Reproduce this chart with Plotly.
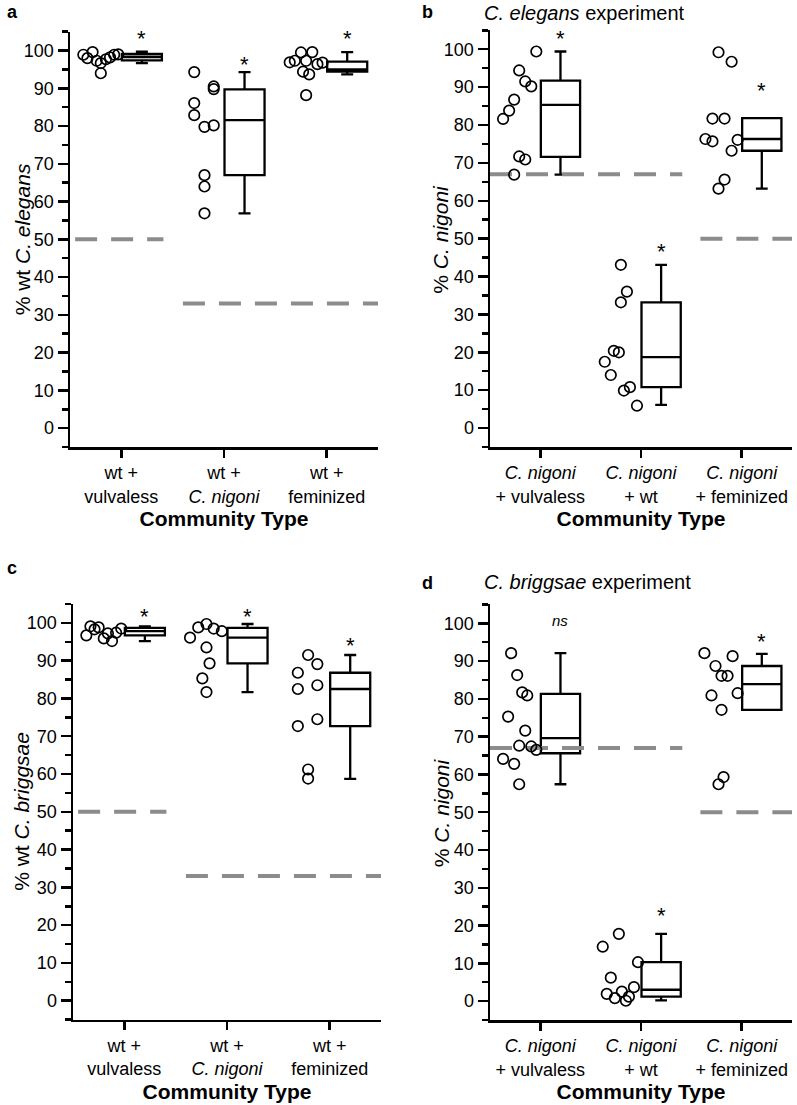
import plotly.graph_objects as go

# ---------------- DATA ----------------
# Panel a: % wt C. elegans
a_cats = ["wt +<br>vulvaless", "wt +<br><i>C. nigoni</i>", "wt +<br>feminized"]
a_vals = [
    [98.9, 98.0, 99.6, 97.3, 96.7, 94.0, 97.7, 98.2, 98.9, 99.0],
    [94.3, 90.5, 89.8, 86.1, 82.9, 79.8, 80.2, 67.0, 64.0, 56.9],
    [96.9, 97.3, 99.5, 97.3, 99.6, 94.4, 93.7, 96.4, 96.8, 88.2],
]
a_jit = [
    [-0.37, -0.33, -0.28, -0.24, -0.20, -0.20, -0.15, -0.11, -0.07, -0.03],
    [-0.29, -0.10, -0.10, -0.29, -0.29, -0.19, -0.10, -0.19, -0.19, -0.19],
    [-0.36, -0.31, -0.25, -0.20, -0.14, -0.23, -0.17, -0.09, -0.04, -0.20],
]
a_q1 = [97.4, 67.0, 94.4]
a_med = [98.3, 81.6, 95.0]
a_q3 = [99.1, 89.7, 97.1]
a_lo = [96.7, 56.9, 93.7]
a_hi = [99.7, 94.3, 99.6]
a_sig = ["*", "*", "*"]
a_sig_y = [104.6, 97.6, 104.6]
a_ref_y = [50, 33]
a_ref_x0 = [-0.45, 0.6]
a_ref_x1 = [0.41, 2.5]

# Panel b: % C. nigoni (C. elegans experiment)
b_cats = ["<i>C. nigoni</i><br>+ vulvaless", "<i>C. nigoni</i><br>+ wt", "<i>C. nigoni</i><br>+ feminized"]
b_vals = [
    [81.6, 83.8, 86.7, 94.4, 91.5, 90.2, 99.4, 71.7, 70.9, 66.9],
    [43.1, 36.0, 33.2, 20.4, 20.0, 17.5, 14.0, 9.9, 10.8, 5.9],
    [99.2, 96.7, 81.7, 81.7, 76.3, 75.7, 76.1, 73.2, 65.6, 63.2],
]
b_jit = [
    [-0.37, -0.31, -0.26, -0.21, -0.15, -0.09, -0.04, -0.21, -0.15, -0.26],
    [-0.20, -0.14, -0.20, -0.27, -0.22, -0.36, -0.30, -0.17, -0.11, -0.04],
    [-0.23, -0.10, -0.29, -0.17, -0.36, -0.29, -0.04, -0.10, -0.17, -0.23],
]
b_q1 = [71.6, 10.8, 73.2]
b_med = [85.3, 18.7, 76.3]
b_q3 = [91.7, 33.2, 81.8]
b_lo = [66.9, 6.1, 63.2]
b_hi = [99.4, 43.1, 81.8]
b_sig = ["*", "*", "*"]
b_sig_y = [104.2, 47.8, 90.3]
b_ref_y = [67, 50]
b_ref_x0 = [-0.5, 1.59]
b_ref_x1 = [1.41, 2.5]

# Panel c: % wt C. briggsae
c_cats = a_cats
c_vals = [
    [96.7, 99.1, 98.3, 98.8, 95.9, 97.2, 95.2, 97.4, 98.5],
    [96.1, 98.8, 99.7, 98.5, 97.8, 93.5, 89.3, 85.3, 81.7],
    [91.5, 89.1, 86.8, 82.5, 83.5, 74.5, 72.7, 61.2, 58.8],
]
c_jit = [
    [-0.37, -0.33, -0.29, -0.25, -0.20, -0.16, -0.12, -0.08, -0.03],
    [-0.36, -0.28, -0.20, -0.13, -0.05, -0.20, -0.17, -0.24, -0.20],
    [-0.21, -0.12, -0.31, -0.31, -0.12, -0.12, -0.31, -0.21, -0.21],
]
c_q1 = [96.7, 89.3, 72.7]
c_med = [97.8, 96.1, 82.5]
c_q3 = [98.7, 98.7, 86.8]
c_lo = [95.2, 81.7, 58.7]
c_hi = [99.1, 99.7, 91.5]
c_sig = ["*", "*", "*"]
c_sig_y = [102.9, 102.9, 95.4]
c_ref_y = [50, 33]
c_ref_x0 = [-0.45, 0.6]
c_ref_x1 = [0.41, 2.5]

# Panel d: % C. nigoni (C. briggsae experiment)
d_cats = b_cats
d_vals = [
    [92.1, 86.3, 81.7, 80.9, 75.3, 71.6, 67.6, 67.4, 66.5, 64.1, 62.8, 57.4],
    [17.8, 14.4, 10.3, 6.2, 3.7, 1.9, 2.5, 0.8, 1.2, 0.1],
    [92.1, 88.7, 86.1, 86.1, 91.3, 80.9, 81.5, 77.1, 59.3, 57.4],
]
d_jit = [
    [-0.29, -0.23, -0.18, -0.13, -0.32, -0.15, -0.21, -0.09, -0.04, -0.37, -0.26, -0.21],
    [-0.22, -0.38, -0.03, -0.30, -0.07, -0.34, -0.19, -0.26, -0.12, -0.15],
    [-0.37, -0.26, -0.20, -0.14, -0.09, -0.30, -0.04, -0.20, -0.18, -0.23],
]
d_q1 = [65.6, 1.2, 77.1]
d_med = [69.6, 3.0, 83.9]
d_q3 = [81.3, 10.3, 88.7]
d_lo = [57.4, 0.2, 77.1]
d_hi = [92.1, 17.8, 91.9]
d_sig = ["<i>ns</i>", "*", "*"]
d_sig_y = [100.4, 23.9, 96.5]
d_ref_y = [67, 50]
d_ref_x0 = [-0.5, 1.59]
d_ref_x1 = [1.41, 2.5]

y_ticks = list(range(0, 101, 10))

# ---------------- STYLE ----------------
W, H = 797, 1105
FONT = "Liberation Sans, Arial, sans-serif"
BOX_OFF = 0.2
BOX_W = 0.39
GRAY = "#8c8c8c"


def px_x(v):
    return v / W


def px_y(v):
    return 1 - v / H


panels = [
    dict(cats=a_cats, vals=a_vals, jit=a_jit, q1=a_q1, med=a_med, q3=a_q3, lo=a_lo, hi=a_hi,
         sig=a_sig, sig_y=a_sig_y, ry=a_ref_y, rx0=a_ref_x0, rx1=a_ref_x1,
         ytitle="% wt <i>C. elegans</i>", tx=22, xd=(70, 378), yd=(31.7, 447)),
    dict(cats=b_cats, vals=b_vals, jit=b_jit, q1=b_q1, med=b_med, q3=b_q3, lo=b_lo, hi=b_hi,
         sig=b_sig, sig_y=b_sig_y, ry=b_ref_y, rx0=b_ref_x0, rx1=b_ref_x1,
         ytitle="% <i>C. nigoni</i>", tx=441, xd=(490, 792), yd=(30.3, 447)),
    dict(cats=c_cats, vals=c_vals, jit=c_jit, q1=c_q1, med=c_med, q3=c_q3, lo=c_lo, hi=c_hi,
         sig=c_sig, sig_y=c_sig_y, ry=c_ref_y, rx0=c_ref_x0, rx1=c_ref_x1,
         ytitle="% wt <i>C. briggsae</i>", tx=22, xd=(73, 381), yd=(604, 1019.6)),
    dict(cats=d_cats, vals=d_vals, jit=d_jit, q1=d_q1, med=d_med, q3=d_q3, lo=d_lo, hi=d_hi,
         sig=d_sig, sig_y=d_sig_y, ry=d_ref_y, rx0=d_ref_x0, rx1=d_ref_x1,
         ytitle="% <i>C. nigoni</i>", tx=441, xd=(490, 792), yd=(604.4, 1020)),
]

fig = go.Figure()
layout = dict(
    width=W, height=H, margin=dict(l=0, r=0, t=0, b=0, autoexpand=False),
    paper_bgcolor="white", plot_bgcolor="white", showlegend=False,
    font=dict(family=FONT, color="black", size=18),
)
annotations = []

for i, p in enumerate(panels, start=1):
    xa = "x" if i == 1 else f"x{i}"
    ya = "y" if i == 1 else f"y{i}"
    # reference dashed lines
    for ry, x0, x1 in zip(p["ry"], p["rx0"], p["rx1"]):
        fig.add_trace(go.Scatter(x=[x0, x1], y=[ry, ry], mode="lines",
                                 line=dict(color=GRAY, width=4, dash="22px,14px"),
                                 xaxis=xa, yaxis=ya, hoverinfo="skip"))
    # points
    for k, (vals, jit) in enumerate(zip(p["vals"], p["jit"])):
        fig.add_trace(go.Scatter(x=[k + j for j in jit], y=vals, mode="markers",
                                 marker=dict(symbol="circle-open", size=10.5, color="black",
                                             line=dict(width=1.7, color="black")),
                                 xaxis=xa, yaxis=ya))
    # boxes
    n = len(p["q1"])
    fig.add_trace(go.Box(x=[k + BOX_OFF for k in range(n)], q1=p["q1"], median=p["med"],
                         q3=p["q3"], lowerfence=p["lo"], upperfence=p["hi"],
                         width=BOX_W, whiskerwidth=0.3, fillcolor="white",
                         line=dict(color="black", width=2.3), boxpoints=False,
                         xaxis=xa, yaxis=ya))
    # significance labels
    for k, (s, sy) in enumerate(zip(p["sig"], p["sig_y"])):
        is_star = s == "*"
        annotations.append(dict(x=k + BOX_OFF, y=sy, xref=xa, yref=ya, text=s,
                                showarrow=False, xanchor="center", yanchor="middle",
                                yshift=-5 if is_star else 1,
                                font=dict(size=22 if is_star else 15, family=FONT)))
    # y-axis title
    annotations.append(dict(x=px_x(p["tx"]), y=px_y((p["yd"][0] + p["yd"][1]) / 2),
                            xref="paper", yref="paper", text=p["ytitle"], textangle=-90,
                            showarrow=False, xanchor="center", yanchor="middle",
                            font=dict(size=21)))
    xdom = [px_x(p["xd"][0]), px_x(p["xd"][1])]
    ydom = [px_y(p["yd"][1]), px_y(p["yd"][0])]
    xkey = "xaxis" if i == 1 else f"xaxis{i}"
    ykey = "yaxis" if i == 1 else f"yaxis{i}"
    layout[xkey] = dict(domain=xdom, range=[-0.5, 2.5], anchor=ya,
                        tickvals=list(range(n)), ticktext=p["cats"],
                        showline=True, linecolor="black", linewidth=2.5,
                        ticks="outside", ticklen=8, tickwidth=2.5, tickcolor="black",
                        showgrid=False, zeroline=False, tickfont=dict(size=18),
                        title=dict(text="<b>Community Type</b>", font=dict(size=21), standoff=6))
    layout[ykey] = dict(domain=ydom, range=[-5, 105], anchor=xa,
                        tickvals=y_ticks,
                        showline=True, linecolor="black", linewidth=2.5,
                        ticks="outside", ticklen=10, tickwidth=2.5, tickcolor="black",
                        minor=dict(dtick=5, tick0=0, ticks="outside", ticklen=6,
                                   tickwidth=2.5, tickcolor="black", showgrid=False),
                        showgrid=False, zeroline=False, tickfont=dict(size=18))

# panel letters and experiment titles
for txt, px, py in [("a", 5, 12), ("b", 420, 12), ("c", 5, 568), ("d", 420, 583)]:
    annotations.append(dict(x=px_x(px), y=px_y(py), xref="paper", yref="paper",
                            text=f"<b>{txt}</b>", showarrow=False, xanchor="left",
                            yanchor="middle", font=dict(size=18)))
for txt, px, py in [("<i>C. elegans</i> experiment", 482, 13),
                    ("<i>C. briggsae</i> experiment", 482, 582)]:
    annotations.append(dict(x=px_x(px), y=px_y(py), xref="paper", yref="paper",
                            text=txt, showarrow=False, xanchor="left",
                            yanchor="middle", font=dict(size=20)))

layout["annotations"] = annotations
fig.update_layout(**layout)
fig.write_html("out.html",
               config={"displayModeBar": False, "staticPlot": True},
               post_script="document.body.style.margin='0px';document.body.style.overflow='hidden';")
